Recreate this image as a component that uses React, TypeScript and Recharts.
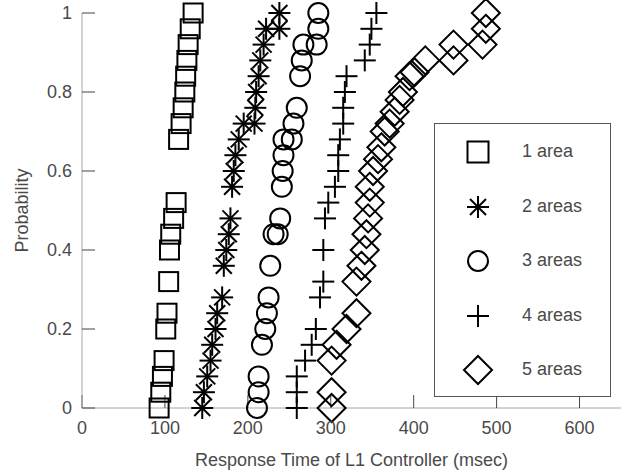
import React from "react";
import { ScatterChart, Scatter, XAxis, YAxis } from "recharts";

// response time (msec) vs cumulative probability, one list per number of areas
const area1X = [93, 95, 97, 99, 101, 102.5, 104.5, 105.5, 107, 110.5, 113.5, 116.5, 119.5, 122, 124, 125, 126.5, 128, 130.5, 134];
const area1Y = [0, 0.04, 0.08, 0.12, 0.2, 0.24, 0.32, 0.4, 0.44, 0.48, 0.52, 0.68, 0.72, 0.76, 0.8, 0.84, 0.88, 0.92, 0.96, 1.0];

const area2X = [145, 147, 151, 155, 157, 161, 163, 169, 171, 174, 177, 179, 181, 183, 185, 189, 195, 208, 209, 210, 213, 215, 219, 222, 238, 238];
const area2Y = [0, 0.04, 0.08, 0.12, 0.16, 0.2, 0.24, 0.28, 0.36, 0.4, 0.44, 0.48, 0.56, 0.6, 0.64, 0.68, 0.72, 0.72, 0.76, 0.8, 0.84, 0.88, 0.92, 0.96, 0.96, 1.0];

const area3X = [211, 213, 213, 217, 221, 223, 225, 227, 231, 236, 239, 241, 242, 243, 243, 253, 255, 259, 263, 265, 267, 283, 285, 285];
const area3Y = [0, 0.04, 0.08, 0.16, 0.2, 0.24, 0.28, 0.36, 0.44, 0.44, 0.48, 0.56, 0.6, 0.64, 0.68, 0.68, 0.72, 0.76, 0.84, 0.88, 0.92, 0.92, 0.96, 1.0];

const area4X = [259, 259, 259, 269, 277, 282, 287, 291, 291, 293, 297, 305, 309, 309, 311, 315, 315, 317, 319, 341, 347, 349, 355];
const area4Y = [0, 0.04, 0.08, 0.12, 0.16, 0.2, 0.28, 0.32, 0.4, 0.48, 0.52, 0.56, 0.6, 0.64, 0.68, 0.72, 0.76, 0.8, 0.84, 0.88, 0.92, 0.96, 1.0];

const area5X = [301, 301, 301, 307, 319, 331, 331, 337, 341, 343, 345, 347, 347, 351, 357, 361, 365, 371, 377, 383, 387, 395, 401, 414, 448, 448, 483, 487, 487];
const area5Y = [0, 0.04, 0.12, 0.16, 0.2, 0.24, 0.32, 0.36, 0.4, 0.44, 0.48, 0.52, 0.56, 0.6, 0.63, 0.66, 0.7, 0.72, 0.75, 0.78, 0.8, 0.84, 0.85, 0.88, 0.88, 0.92, 0.92, 0.96, 1.0];

const seriesNames = ["1 area", "2 areas", "3 areas", "4 areas", "5 areas"];
const xTicks = [0, 100, 200, 300, 400, 500, 600];
const yTicks = [0, 0.2, 0.4, 0.6, 0.8, 1];

const toPoints = (xs: number[], ys: number[]) => xs.map((x, i) => ({ x, y: ys[i] }));

const INK = "#000";
const SW = 2;

function Square({ cx, cy, s = 19 }: any) {
  return <rect x={cx - s / 2} y={cy - s / 2} width={s} height={s} fill="none" stroke={INK} strokeWidth={SW} />;
}
function Asterisk({ cx, cy }: any) {
  const a = 11;
  const d = 8;
  return (
    <g stroke={INK} strokeWidth={SW}>
      <line x1={cx - a} y1={cy} x2={cx + a} y2={cy} />
      <line x1={cx} y1={cy - a} x2={cx} y2={cy + a} />
      <line x1={cx - d} y1={cy - d} x2={cx + d} y2={cy + d} />
      <line x1={cx - d} y1={cy + d} x2={cx + d} y2={cy - d} />
    </g>
  );
}
function Ring({ cx, cy }: any) {
  return <circle cx={cx} cy={cy} r={10} fill="none" stroke={INK} strokeWidth={SW} />;
}
function Plus({ cx, cy }: any) {
  const a = 11;
  return (
    <g stroke={INK} strokeWidth={SW}>
      <line x1={cx - a} y1={cy} x2={cx + a} y2={cy} />
      <line x1={cx} y1={cy - a} x2={cx} y2={cy + a} />
    </g>
  );
}
function Diamond({ cx, cy }: any) {
  const h = 14;
  return (
    <polygon
      points={`${cx},${cy - h} ${cx + h},${cy} ${cx},${cy + h} ${cx - h},${cy}`}
      fill="none"
      stroke={INK}
      strokeWidth={SW}
    />
  );
}

const markers = [Square, Asterisk, Ring, Plus, Diamond];
const FONT = "'Liberation Sans', Arial, sans-serif";
const TEXT = "#4a4a4a";

export default function App() {
  const data = [
    toPoints(area1X, area1Y),
    toPoints(area2X, area2Y),
    toPoints(area3X, area3Y),
    toPoints(area4X, area4Y),
    toPoints(area5X, area5Y),
  ];
  const tickStyle = { fill: TEXT, fontSize: 18, fontFamily: FONT };
  const axisLine = { stroke: "#a6a6a6" };
  const tickLine = { stroke: "#444" };

  return (
    <div style={{ position: "absolute", left: 0, top: 0, width: 639, height: 476, background: "#fff" }}>
      <ScatterChart width={639} height={476} margin={{ top: 13, right: 18, bottom: 38, left: 42 }}>
        <XAxis
          dataKey="x"
          type="number"
          domain={[0, 650]}
          ticks={xTicks}
          interval={0}
          height={30}
          tickSize={-13}
          tickMargin={26}
          tick={tickStyle}
          axisLine={axisLine}
          tickLine={tickLine}
          label={{
            value: "Response Time of L1 Controller (msec)",
            position: "bottom",
            offset: 15,
            style: { fill: TEXT, fontSize: 18, fontFamily: FONT },
          }}
        />
        <XAxis
          xAxisId="top"
          orientation="top"
          dataKey="x"
          type="number"
          domain={[0, 650]}
          ticks={xTicks}
          interval={0}
          height={0}
          tickSize={-13}
          tickFormatter={() => ""}
          axisLine={axisLine}
          tickLine={tickLine}
        />
        <YAxis
          dataKey="y"
          type="number"
          domain={[0, 1]}
          ticks={yTicks}
          interval={0}
          width={40}
          tickSize={-13}
          tickMargin={23}
          tick={tickStyle}
          axisLine={axisLine}
          tickLine={tickLine}
          label={{
            value: "Probability",
            angle: -90,
            position: "left",
            offset: 20,
            style: { fill: TEXT, fontSize: 18, fontFamily: FONT, textAnchor: "middle" },
          }}
        />
        <YAxis
          yAxisId="right"
          orientation="right"
          dataKey="y"
          type="number"
          domain={[0, 1]}
          ticks={yTicks}
          interval={0}
          width={0}
          tickSize={-13}
          tickFormatter={() => ""}
          axisLine={axisLine}
          tickLine={tickLine}
        />
        {data.map((pts, i) => (
          <Scatter
            key={seriesNames[i]}
            name={seriesNames[i]}
            data={pts}
            shape={markers[i]}
            isAnimationActive={false}
          />
        ))}
      </ScatterChart>
      <div
        style={{
          position: "absolute",
          left: 434,
          top: 123,
          width: 177,
          height: 274,
          border: "1px solid #555",
          boxSizing: "border-box",
          background: "#fff",
          fontFamily: FONT,
          fontSize: 18,
          color: TEXT,
        }}
      >
        {seriesNames.map((name, i) => {
          const M = markers[i];
          const top = 28 + i * 54.6;
          return (
            <div key={name} style={{ position: "absolute", left: 0, top: top - 16, height: 32, width: 175 }}>
              <svg width={70} height={32} style={{ position: "absolute", left: 26, top: 0 }}>
                <M cx={17} cy={16} s={21} />
              </svg>
              <span style={{ position: "absolute", left: 87, top: 5, lineHeight: "20px", whiteSpace: "nowrap" }}>
                {name}
              </span>
            </div>
          );
        })}
      </div>
    </div>
  );
}
